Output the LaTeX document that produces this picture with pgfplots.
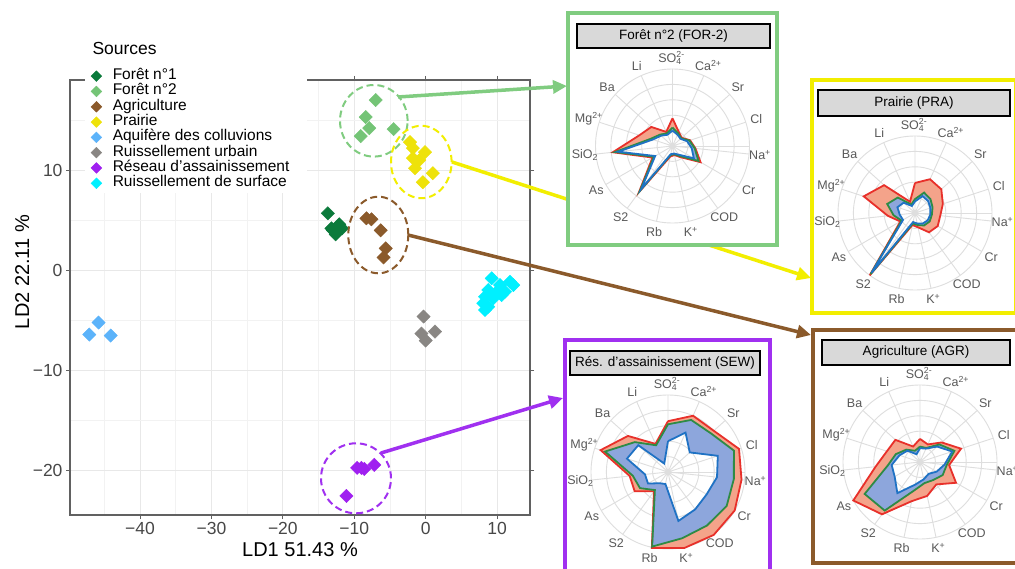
\documentclass[border=0pt]{standalone}
\usepackage{fontspec}
\setmainfont{Liberation Sans}
\usepackage{pgfplots}
\usepackage{pgfplotstable}
\pgfplotsset{compat=1.18}
\usepgfplotslibrary{polar}
\usetikzlibrary{arrows.meta}

\definecolor{fone}{HTML}{0B7A3B}
\definecolor{ftwo}{HTML}{74C476}
\definecolor{agri}{HTML}{8B5A2B}
\definecolor{prai}{HTML}{EEE20A}
\definecolor{aqui}{HTML}{5CB3FA}
\definecolor{urb}{HTML}{898683}
\definecolor{sew}{HTML}{A020F0}
\definecolor{surf}{HTML}{00F0FF}
\definecolor{rred}{HTML}{E8302A}
\definecolor{rsalmon}{HTML}{F4A38A}
\definecolor{rgreen}{HTML}{2E8B45}
\definecolor{rblue}{HTML}{1F72C4}
\definecolor{rbluefill}{HTML}{8DA6DC}
\definecolor{pgreen}{HTML}{80CC80}
\definecolor{pyellow}{HTML}{F2EE00}
\definecolor{ppurple}{HTML}{A030F0}
\definecolor{pbrown}{HTML}{8B5A2B}

% ---------------- radar data (angle, red, green, blue) ----------------
\pgfplotstableread{
a r g b
90 1.8 1.2 1.0
66 1.0 0.9 0.8
42 0.8 0.75 0.7
18 1.2 1.15 1.0
354 1.5 1.45 1.25
330 2.1 1.95 1.6
306 0.9 0.8 0.7
282 0.6 0.55 0.5
258 0.7 0.6 0.55
234 3.7 3.6 3.45
210 1.5 1.4 1.3
186 3.9 3.75 3.55
162 2.26 1.5 1.35
138 1.85 1.1 1.0
114 1.0 0.9 0.8
90 1.8 1.2 1.0
}\tabFOR
\pgfplotstableread{
a v
90 1.8
66 1.0
42 0.8
18 1.2
354 1.5
330 2.1
306 0.9
282 0.6
258 0.7
234 3.7
210 1.5
186 3.9
162 2.26
138 1.85
114 1.0
90 1.8
nan nan
90 1.2
66 0.9
42 0.75
18 1.15
354 1.45
330 1.95
306 0.8
282 0.55
258 0.6
234 3.6
210 1.4
186 3.75
162 1.5
138 1.1
114 0.9
90 1.2
}\FORo
\pgfplotstableread{
a v
90 1.2
66 0.9
42 0.75
18 1.15
354 1.45
330 1.95
306 0.8
282 0.55
258 0.6
234 3.6
210 1.4
186 3.75
162 1.5
138 1.1
114 0.9
90 1.2
nan nan
90 1.0
66 0.8
42 0.7
18 1.0
354 1.25
330 1.6
306 0.7
282 0.5
258 0.55
234 3.45
210 1.3
186 3.55
162 1.35
138 1.0
114 0.8
90 1.0
}\FORm

\pgfplotstableread{
a r g b
90 1.95 0.9 0.75
66 2.4 1.45 1.2
42 2.3 1.35 1.15
18 1.9 1.2 1.05
354 1.65 1.1 1.0
330 1.7 1.1 0.95
306 1.55 1.0 0.85
282 0.95 0.8 0.7
258 0.8 0.7 0.6
234 5.0 4.9 4.8
210 1.1 1.0 0.9
186 1.77 1.4 1.0
162 3.5 1.9 1.2
138 2.7 1.5 1.0
114 0.8 0.6 0.5
90 1.95 0.9 0.75
}\tabPRA
\pgfplotstableread{
a v
90 1.95
66 2.4
42 2.3
18 1.9
354 1.65
330 1.7
306 1.55
282 0.95
258 0.8
234 5.0
210 1.1
186 1.77
162 3.5
138 2.7
114 0.8
90 1.95
nan nan
90 0.9
66 1.45
42 1.35
18 1.2
354 1.1
330 1.1
306 1.0
282 0.8
258 0.7
234 4.9
210 1.0
186 1.4
162 1.9
138 1.5
114 0.6
90 0.9
}\PRAo
\pgfplotstableread{
a v
90 0.9
66 1.45
42 1.35
18 1.2
354 1.1
330 1.1
306 1.0
282 0.8
258 0.7
234 4.9
210 1.0
186 1.4
162 1.9
138 1.5
114 0.6
90 0.9
nan nan
90 0.75
66 1.2
42 1.15
18 1.05
354 1.0
330 0.95
306 0.85
282 0.7
258 0.6
234 4.8
210 0.9
186 1.0
162 1.2
138 1.0
114 0.5
90 0.75
}\PRAm

\pgfplotstableread{
a r g b
90 3.3 3.1 2.0
66 4.0 3.7 2.8
42 4.0 3.75 1.9
18 4.85 4.5 3.4
354 4.8 4.3 3.2
330 5.0 4.4 2.9
306 5.05 4.3 3.0
282 5.05 4.4 3.25
258 5.05 4.95 0.8
234 1.55 1.45 0.9
210 2.5 2.1 1.5
186 2.5 2.3 1.5
162 4.6 4.3 2.8
138 3.5 2.9 2.6
114 2.0 1.9 0.6
90 3.3 3.1 2.0
}\tabSEW
\pgfplotstableread{
a v
90 3.3
66 4.0
42 4.0
18 4.85
354 4.8
330 5.0
306 5.05
282 5.05
258 5.05
234 1.55
210 2.5
186 2.5
162 4.6
138 3.5
114 2.0
90 3.3
nan nan
90 3.1
66 3.7
42 3.75
18 4.5
354 4.3
330 4.4
306 4.3
282 4.4
258 4.95
234 1.45
210 2.1
186 2.3
162 4.3
138 2.9
114 1.9
90 3.1
}\SEWo
\pgfplotstableread{
a v
90 3.1
66 3.7
42 3.75
18 4.5
354 4.3
330 4.4
306 4.3
282 4.4
258 4.95
234 1.45
210 2.1
186 2.3
162 4.3
138 2.9
114 1.9
90 3.1
nan nan
90 2.0
66 2.8
42 1.9
18 3.4
354 3.2
330 2.9
306 3.0
282 3.25
258 0.8
234 0.9
210 1.5
186 1.5
162 2.8
138 2.6
114 0.6
90 2.0
}\SEWm

\pgfplotstableread{
a r g b
90 1.5 1.0 0.9
66 1.25 1.0 0.95
42 1.9 1.7 1.5
18 2.8 2.35 2.2
354 1.9 1.75 1.6
330 2.7 1.7 1.25
306 1.8 1.45 0.95
282 2.25 1.4 1.15
258 2.6 1.9 1.5
234 4.2 3.9 2.5
210 5.0 4.15 1.9
186 2.9 2.1 1.85
162 2.26 1.65 1.4
138 2.15 1.2 1.1
114 1.1 0.8 0.55
90 1.5 1.0 0.9
}\tabAGR
\pgfplotstableread{
a v
90 1.5
66 1.25
42 1.9
18 2.8
354 1.9
330 2.7
306 1.8
282 2.25
258 2.6
234 4.2
210 5.0
186 2.9
162 2.26
138 2.15
114 1.1
90 1.5
nan nan
90 1.0
66 1.0
42 1.7
18 2.35
354 1.75
330 1.7
306 1.45
282 1.4
258 1.9
234 3.9
210 4.15
186 2.1
162 1.65
138 1.2
114 0.8
90 1.0
}\AGRo
\pgfplotstableread{
a v
90 1.0
66 1.0
42 1.7
18 2.35
354 1.75
330 1.7
306 1.45
282 1.4
258 1.9
234 3.9
210 4.15
186 2.1
162 1.65
138 1.2
114 0.8
90 1.0
nan nan
90 0.9
66 0.95
42 1.5
18 2.2
354 1.6
330 1.25
306 0.95
282 1.15
258 1.5
234 2.5
210 1.9
186 1.85
162 1.4
138 1.1
114 0.55
90 0.9
}\AGRm

\pgfplotsset{
  radar/.style={
    width=154pt, height=154pt, scale only axis,
    anchor=origin,
    ymin=0, ymax=5,
    xtick={18,42,...,354},
    xticklabels={Cl,Sr,Ca\textsuperscript{2+},{SO\rlap{\textsubscript{4}}\textsuperscript{2-}\kern2pt},Li,Ba,Mg\textsuperscript{2+},SiO\textsubscript{2},As,S2,Rb,K\textsuperscript{+},COD,Cr,Na\textsuperscript{+}},
    ytick={1,2,3,4},
    yticklabels={},
    grid=major,
    major grid style={draw=black!13, line width=0.9pt},
    axis line style={draw=black!13, line width=0.9pt},
    major tick length=0pt,
    xticklabel style={font=\fontsize{12.5}{13}\selectfont, text=black!65,
      anchor=center, xshift={11*cos(\tick)}, yshift={11*sin(\tick)}},
    clip=false,
    unbounded coords=jump,
  }
}
\newcommand{\radar}[5]{%
  \begin{polaraxis}[radar, at={(#1pt,#2pt)}]
    \addplot[draw=none, fill=rsalmon, even odd rule] table[x=a,y=v] {#4};
    \addplot[draw=none, fill=rbluefill, even odd rule] table[x=a,y=v] {#5};
    \addplot[draw=rred, line width=1.8pt] table[x=a,y=r] {#3};
    \addplot[draw=rgreen, line width=1.8pt] table[x=a,y=g] {#3};
    \addplot[draw=rblue, line width=1.8pt] table[x=a,y=b] {#3};
  \end{polaraxis}}

\begin{document}
\begin{tikzpicture}[x=1pt,y=1pt]
\useasboundingbox (0,0) rectangle (1015,568);
\clip (0,0) rectangle (1015,568);
\fill[white] (0,0) rectangle (1015,568);

\begin{axis}[
  at={(70pt,53pt)}, anchor=south west,
  width=460pt, height=435pt, scale only axis,
  xmin=-49.8, xmax=14.6, ymin=-24.4, ymax=19.0,
  xtick={-40,-30,-20,-10,0,10}, xticklabels={−40,−30,−20,−10,0,10},
  ytick={-20,-10,0,10}, yticklabels={−20,−10,0,10},
  minor xtick={-45,-35,-25,-15,-5,5},
  minor ytick={-15,-5,5,15},
  grid=both,
  major grid style={draw=black!9, line width=0.9pt},
  minor grid style={draw=black!5, line width=0.6pt},
  axis line style={draw=black!62, line width=1.1pt},
  tick align=outside, major tick length=4pt, minor tick length=0pt,
  tick style={draw=black!62, line width=1pt},
  ticklabel style={font=\fontsize{17.5}{17.5}\selectfont, text=black!72},
  xlabel={LD1 51.43 \%}, ylabel={LD2 22.11 \%},
  label style={font=\fontsize{20}{20}\selectfont},
  xlabel style={at={(axis description cs:0.5,-0.0805)}, anchor=center},
  ylabel style={at={(axis description cs:-0.104,0.5586)}, anchor=center},
  clip=false,
  legend cell align=left,
  legend image code/.code={\draw[mark repeat=2,mark phase=2,#1,mark size=3.8pt] plot coordinates {(0pt,0pt)(6pt,0pt)(12pt,0pt)};},
  legend style={at={(0.0457,1.0264)}, anchor=north west, draw=none, fill=none,
    inner sep=0pt, outer sep=0pt, row sep=0pt, column sep=11pt,
    font=\fontsize{15.5}{15.5}\selectfont,
    nodes={inner sep=0pt, text height=11pt, text depth=4.3pt}},
  mark size=4.7pt,
]
\fill[white] (axis cs:-47.7,7.7) rectangle (axis cs:-16.6,24.5);
\addplot[only marks, mark=square*, color=fone, mark options={rotate=45}] coordinates {
(-13.7,5.7) (-13.2,4.2) (-11.7,4.2) (-12.6,3.6) (-12.1,4.6) (-13.0,4.0)};
\addlegendentry{Forêt n°1}
\addplot[only marks, mark=square*, color=ftwo, mark options={rotate=45}] coordinates {
(-7.0,17.0) (-8.4,15.3) (-7.9,14.2) (-9.1,13.4) (-4.5,14.1)};
\addlegendentry{Forêt n°2}
\addplot[only marks, mark=square*, color=agri, mark options={rotate=45}] coordinates {
(-8.3,5.2) (-7.6,5.1) (-6.3,4.0) (-5.6,2.2) (-5.9,1.3)};
\addlegendentry{Agriculture}
\addplot[only marks, mark=square*, color=prai, mark options={rotate=45}] coordinates {
(-2.2,12.8) (-0.1,11.8) (-1.8,11.2) (-1.5,10.2) (1.0,9.7) (-0.4,8.8) (-1.8,12.2) (-0.9,11.0)};
\addlegendentry{Prairie}
\addplot[only marks, mark=square*, color=aqui, mark options={rotate=45}] coordinates {
(-45.8,-5.2) (-47.1,-6.4) (-44.1,-6.5)};
\addlegendentry{Aquifère des colluvions}
\addplot[only marks, mark=square*, color=urb, mark options={rotate=45}] coordinates {
(-0.3,-4.6) (-0.6,-6.3) (1.3,-6.1) (0.0,-7.0)};
\addlegendentry{Ruissellement urbain}
\addplot[only marks, mark=square*, color=sew, mark options={rotate=45}] coordinates {
(-9.6,-19.7) (-8.6,-19.8) (-7.2,-19.4) (-11.1,-22.5) (-9.0,-19.7)};
\addlegendentry{Réseau d'assainissement}
\addplot[only marks, mark=square*, color=surf, mark options={rotate=45}] coordinates {
(9.24,-0.79) (11.8,-1.13) (12.26,-1.46) (10.4,-1.46) (8.76,-1.96) (9.94,-2.13) (11.1,-2.13)
(8.3,-2.62) (9.46,-2.78) (8.06,-3.28) (8.76,-3.62) (8.3,-3.95) (10.64,-2.46)};
\addlegendentry{Ruissellement de surface}
\end{axis}

\node[anchor=west, font=\fontsize{17.5}{17.5}\selectfont] at (89,520) {Sources};

% dashed ellipses
\draw[pgreen, line width=2pt, dash pattern=on 7pt off 4pt] (373.8,447.2) ellipse [x radius=33.8pt, y radius=35.8pt];
\draw[pyellow, line width=2pt, dash pattern=on 7pt off 4pt] (421.3,406) ellipse [x radius=30.3pt, y radius=36.2pt];
\draw[pbrown, line width=2pt, dash pattern=on 7pt off 4pt] (378.3,333) ellipse [x radius=30pt, y radius=38.3pt];
\draw[ppurple, line width=2pt, dash pattern=on 7pt off 4pt] (356,89.7) ellipse [x radius=35pt, y radius=35pt];

% arrows
\draw[pgreen, line width=3.5pt, -{Triangle[length=14pt,width=13pt]}] (398,471) -- (567,482);
\draw[pyellow, line width=3.5pt, -{Triangle[length=14pt,width=13pt]}] (452,406) -- (811,290);
\draw[pbrown, line width=3.5pt, -{Triangle[length=14pt,width=13pt]}] (408,333) -- (811,233);
\draw[ppurple, line width=3.5pt, -{Triangle[length=14pt,width=13pt]}] (381,115) -- (563,170);

% panels
\filldraw[fill=white, draw=pgreen, line width=3.5pt] (568,323) rectangle (777,555);
\filldraw[fill=black!15, draw=black, line width=1.2pt] (577,520) rectangle (770,544);
\node[font=\fontsize{13.5}{14}\selectfont] at (673.5,532) {Forêt n°2 (FOR-2)};
\radar{672.5}{422}{\tabFOR}{\FORo}{\FORm}

\filldraw[fill=white, draw=pyellow, line width=3.5pt] (812,255) rectangle (1016,488);
\filldraw[fill=black!15, draw=black, line width=1.2pt] (818,452) rectangle (1010,478);
\node[font=\fontsize{13.5}{14}\selectfont] at (914,465) {Prairie (PRA)};
\radar{915}{355}{\tabPRA}{\PRAo}{\PRAm}

\filldraw[fill=white, draw=ppurple, line width=3.5pt] (565,-5) rectangle (770,228);
\filldraw[fill=black!15, draw=black, line width=1.2pt] (570,193) rectangle (760,217);
\node[font=\fontsize{13.5}{14}\selectfont] at (665,205) {Rés. d'assainissement (SEW)};
\radar{668}{96}{\tabSEW}{\SEWo}{\SEWm}

\filldraw[fill=white, draw=pbrown, line width=3.5pt] (813,5) rectangle (1019,238);
\filldraw[fill=black!15, draw=black, line width=1.2pt] (822,203) rectangle (1010,228);
\node[font=\fontsize{13.5}{14}\selectfont] at (916,215.5) {Agriculture (AGR)};
\radar{920}{106}{\tabAGR}{\AGRo}{\AGRm}
\end{tikzpicture}
\end{document}
